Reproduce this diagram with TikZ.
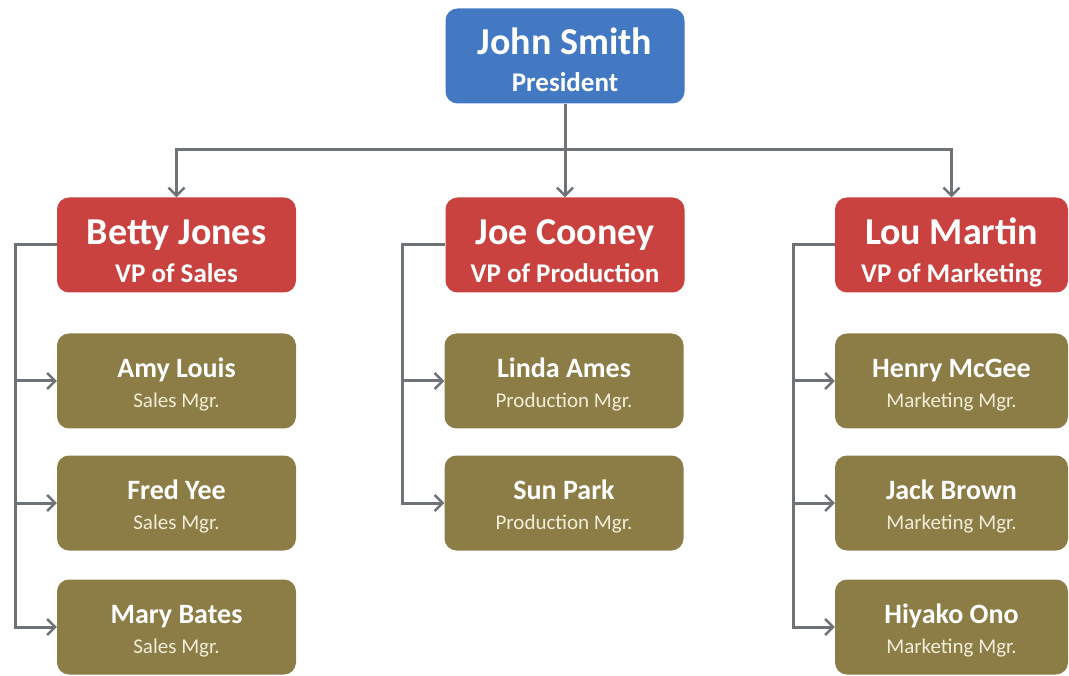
\documentclass[tikz,border=0pt]{standalone}
\usepackage{fontspec}
\setmainfont{Carlito}
\usetikzlibrary{arrows.meta}
\definecolor{presblue}{HTML}{4279C2}
\definecolor{vpred}{HTML}{C94240}
\definecolor{mgrolive}{HTML}{8C7D46}
\definecolor{linegrey}{HTML}{6E7378}
\definecolor{subtxt}{HTML}{F1EDD9}
\tikzset{
  box/.style={rounded corners=12pt, minimum width=239pt, minimum height=95pt, inner sep=0pt, align=center, text=white},
  presbox/.style={box, fill=presblue, font=\fontsize{26}{37}\selectfont},
  vpbox/.style={box, fill=vpred, font=\fontsize{26}{38}\selectfont},
  mgrbox/.style={box, fill=mgrolive, font=\fontsize{20}{30}\selectfont},
  conn/.style={draw=linegrey, line width=3pt, -{Straight Barb[length=8pt,width=16pt,line width=2.5pt]}},
}
\newcommand{\bigname}[3]{{\fontsize{38}{38}\selectfont\bfseries\rule{0pt}{#3}#1}\\{\fontsize{27}{38}\selectfont\bfseries\rule[-7pt]{0pt}{7pt}#2}}
\newcommand{\smallname}[2]{{\fontsize{28}{30}\selectfont\bfseries\rule{0pt}{27pt}#1}\\{\fontsize{21}{30}\selectfont\color{subtxt} #2}}
\begin{document}
\begin{tikzpicture}[x=1pt,y=-1pt]
\useasboundingbox (0,0) rectangle (1069,676);
\node[presbox] (pres) at (565,56) {\bigname{John Smith}{President}{42pt}};
\node[vpbox] (betty) at (176.5,245) {\bigname{Betty Jones}{VP of Sales}{45pt}};
\node[vpbox] (joe) at (565,245) {\bigname{Joe Cooney}{VP of Production}{45pt}};
\node[vpbox, minimum width=233pt] (lou) at (951.5,245) {\bigname{Lou Martin}{VP of Marketing}{45pt}};
\node[mgrbox] (amy) at (176.5,381) {\smallname{Amy Louis}{Sales Mgr.}};
\node[mgrbox] (fred) at (176.5,503) {\smallname{Fred Yee}{Sales Mgr.}};
\node[mgrbox] (mary) at (176.5,627) {\smallname{Mary Bates}{Sales Mgr.}};
\node[mgrbox] (linda) at (564,381) {\smallname{Linda Ames}{Production Mgr.}};
\node[mgrbox] (sun) at (564,503) {\smallname{Sun Park}{Production Mgr.}};
\node[mgrbox, minimum width=233pt] (henry) at (951.5,381) {\smallname{Henry McGee}{Marketing Mgr.}};
\node[mgrbox, minimum width=233pt] (jack) at (951.5,503) {\smallname{Jack Brown}{Marketing Mgr.}};
\node[mgrbox, minimum width=233pt] (hiyako) at (951.5,627) {\smallname{Hiyako Ono}{Marketing Mgr.}};
\coordinate (bus) at (565,150);
\coordinate (bl) at (15,245);
\coordinate (jl) at (402,245);
\coordinate (ll) at (793,245);
\draw[conn] (pres.south) -- (joe.north);
\draw[conn] (bus) -| (betty.north);
\draw[conn] (bus) -| (lou.north);
\draw[conn] (betty.west) -- (bl) |- (amy.west);
\draw[conn] (bl) |- (fred.west);
\draw[conn] (bl) |- (mary.west);
\draw[conn] (joe.west) -- (jl) |- (linda.west);
\draw[conn] (jl) |- (sun.west);
\draw[conn] (lou.west) -- (ll) |- (henry.west);
\draw[conn] (ll) |- (jack.west);
\draw[conn] (ll) |- (hiyako.west);
\end{tikzpicture}
\end{document}
